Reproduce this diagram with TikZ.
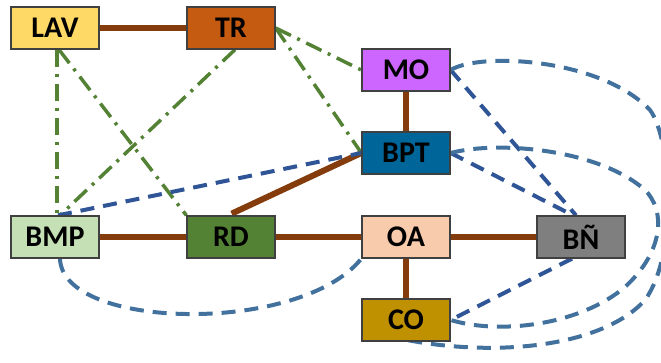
\documentclass[tikz,border=0pt]{standalone}
\usepackage{fontspec}
\setmainfont{Carlito}
\usetikzlibrary{backgrounds}

\definecolor{cLAV}{HTML}{FFD966}
\definecolor{cTR}{HTML}{C55A11}
\definecolor{cMO}{HTML}{CC66FF}
\definecolor{cBPT}{HTML}{006699}
\definecolor{cBMP}{HTML}{C5E0B4}
\definecolor{cRD}{HTML}{548235}
\definecolor{cOA}{HTML}{F8CBAD}
\definecolor{cBN}{HTML}{7F7F7F}
\definecolor{cCO}{HTML}{BF9000}
\definecolor{linkbrown}{HTML}{843C0C}
\definecolor{linkgreen}{HTML}{548235}
\definecolor{linkblue}{HTML}{2F5597}
\definecolor{loopblue}{HTML}{41719C}

\tikzset{
  box/.style={draw=black!75, line width=1.3pt, minimum width=88pt, minimum height=42pt,
    inner sep=0pt, font=\fontsize{30}{32}\selectfont\bfseries, text=black},
  strong/.style={draw=linkbrown, line width=6pt},
  weak/.style={draw=linkgreen, line width=3.5pt,
    dash pattern=on 17pt off 7pt on 3pt off 7pt},
  tie/.style={draw=linkblue, line width=4pt, dash pattern=on 14pt off 9pt},
  loop/.style={draw=loopblue, line width=4pt, dash pattern=on 14pt off 9pt},
}

\begin{document}
\begin{tikzpicture}[x=1pt,y=-1pt]
\useasboundingbox (0,0) rectangle (661,363);

% nodes
\node[box, fill=cLAV] (LAV) at (55,28)  {LAV};
\node[box, fill=cTR]  (TR)  at (231,28) {TR};
\node[box, fill=cMO]  (MO)  at (406,70) {MO};
\node[box, fill=cBPT] (BPT) at (406,153) {BPT};
\node[box, fill=cBMP] (BMP) at (55,237) {BMP};
\node[box, fill=cRD]  (RD)  at (231,237) {RD};
\node[box, fill=cOA]  (OA)  at (406,237) {OA};
\node[box, fill=cBN]  (BN)  at (581,237) {BÑ};
\node[box, fill=cCO]  (CO)  at (406,320) {CO};

\begin{scope}[on background layer]
\clip (0,0) rectangle (661,363);
% strong links
\draw[strong] (LAV.east) -- (TR.west);
\draw[strong] (MO.south) -- (BPT.north);
\draw[strong, shorten >=4pt] (BPT.west) -- ([xshift=-3pt]RD.north);
\draw[strong] (BMP.east) -- (RD.west);
\draw[strong] (RD.east) -- (OA.west);
\draw[strong] (OA.east) -- (BN.west);
\draw[strong] (OA.south) -- (CO.north);

% weak links
\draw[weak] ([xshift=2pt]LAV.south) -- ([xshift=2pt]BMP.north);
\draw[weak] ([xshift=4pt]LAV.south) -- (RD.north west);
\draw[weak] ([xshift=4pt]TR.south) -- ([xshift=5pt]BMP.north);
\draw[weak] (TR.east) -- (MO.west);
\draw[weak] (TR.east) -- (BPT.west);

% dashed ties
\draw[tie] ([xshift=3pt]BMP.north) -- (BPT.west);
\draw[tie] (MO.east) -- ([xshift=-5pt]BN.north);
\draw[tie] (BPT.east) -- ([xshift=-8pt]BN.north);
\draw[tie] ([xshift=-9pt]BN.south) -- (CO.east);

% dashed loops
\draw[loop] ([xshift=5pt]BMP.south) .. controls (62,330) and (300,335) .. (OA.south west);
\draw[loop] (MO.east) .. controls (480,52) and (600,58) .. (650,110)
  .. controls (672,140) and (678,255) .. (645,300)
  .. controls (600,350) and (480,360) .. ([xshift=17pt,yshift=8pt]CO.south west);
\draw[loop] (BPT.east) .. controls (500,140) and (600,150) .. (645,190)
  .. controls (665,210) and (665,250) .. (625,287)
  .. controls (580,325) and (500,335) .. (CO.east);
\end{scope}
\end{tikzpicture}
\end{document}
